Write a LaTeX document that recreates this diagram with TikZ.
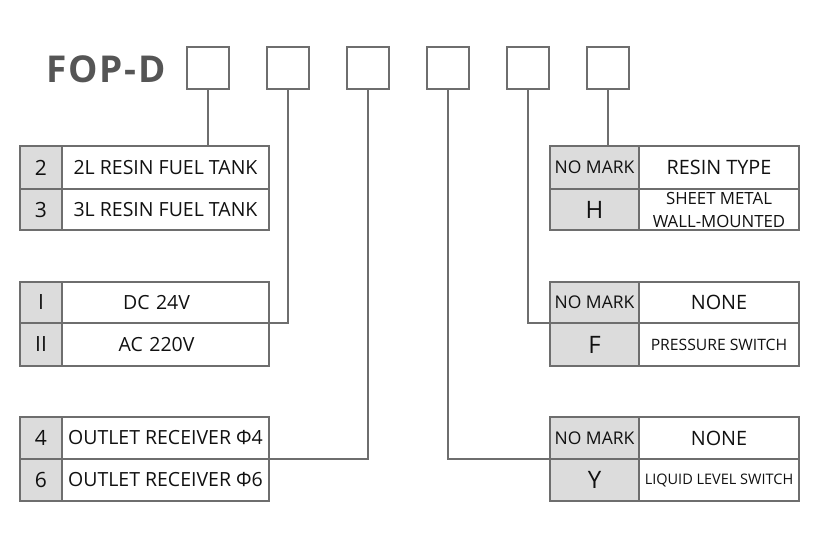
\documentclass[tikz,border=0pt]{standalone}
\usepackage{fontspec}
\setmainfont{Open Sans}
\definecolor{linegray}{HTML}{6E6E6E}
\definecolor{cellgray}{HTML}{DCDCDC}
\definecolor{titlegray}{HTML}{555555}
\definecolor{txt}{HTML}{111111}
\tikzset{
  codebox/.style={draw=linegray, line width=1.5pt, fill=white, minimum width=42pt, minimum height=42pt, inner sep=0pt, outer sep=0pt, anchor=north west},
  cellbase/.style={draw=linegray, line width=1.5pt, inner sep=0pt, outer sep=0pt, anchor=north west, text=txt, align=center},
  keycell/.style={cellbase, fill=cellgray},
  valcell/.style={cellbase, fill=white},
  conn/.style={draw=linegray, line width=1.5pt},
  fbig/.style={font=\fontsize{21}{21}\selectfont},
  fbigr/.style={font=\fontsize{24}{24}\selectfont},
  fmid/.style={font=\fontsize{19.5}{19.5}\selectfont},
  fval/.style={font=\fontsize{19.8}{19.8}\selectfont},
  fnm/.style={font=\fontsize{17.5}{17.5}\selectfont},
  fsm/.style={font=\fontsize{16.8}{23}\selectfont},
  fps/.style={font=\fontsize{15.7}{15.7}\selectfont},
  fxs/.style={font=\fontsize{14.5}{14.5}\selectfont},
}
\begin{document}
\begin{tikzpicture}[x=1pt,y=-1pt]
\useasboundingbox (0,0) rectangle (828,535);
% title
\node[font=\fontsize{37}{37}\selectfont\bfseries\addfontfeatures{LetterSpace=5}, text=titlegray, anchor=base west, inner sep=0pt] (title) at (46,82) {FOP-D};
% code boxes
\node[codebox] (b1) at (187,47) {};
\node[codebox] (b2) at (267,47) {};
\node[codebox] (b3) at (347,47) {};
\node[codebox] (b4) at (427,47) {};
\node[codebox] (b5) at (507,47) {};
\node[codebox] (b6) at (587,47) {};
% left table 1
\node[keycell, fbig, minimum width=42pt, minimum height=43pt] (t1a) at (20,146) {2};
\node[valcell, fmid, minimum width=207pt, minimum height=43pt] (t1b) at (62,146) {2L RESIN FUEL TANK};
\node[keycell, fbig, minimum width=42pt, minimum height=41pt] (t1c) at (20,189) {3};
\node[valcell, fmid, minimum width=207pt, minimum height=41pt] (t1d) at (62,189) {3L RESIN FUEL TANK};
% left table 2
\node[keycell, fbig, minimum width=42pt, minimum height=41pt] (t2a) at (20,282) {I};
\node[valcell, fmid, minimum width=207pt, minimum height=41pt, text width=190pt] (t2b) at (62,282) {\hspace*{-18pt}DC 24V};
\node[keycell, fbig, minimum width=42pt, minimum height=43pt] (t2c) at (20,323) {II};
\node[valcell, fmid, minimum width=207pt, minimum height=43pt, text width=190pt] (t2d) at (62,323) {\hspace*{-18pt}AC 220V};
% left table 3
\node[keycell, fbig, minimum width=42pt, minimum height=42pt] (t3a) at (20,417) {4};
\node[valcell, fmid, minimum width=207pt, minimum height=42pt] (t3b) at (62,417) {OUTLET RECEIVER Φ4};
\node[keycell, fbig, minimum width=42pt, minimum height=42pt] (t3c) at (20,459) {6};
\node[valcell, fmid, minimum width=207pt, minimum height=42pt] (t3d) at (62,459) {OUTLET RECEIVER Φ6};
% right table 4
\node[keycell, fnm, minimum width=89pt, minimum height=43pt] (t4a) at (550,146) {NO MARK};
\node[valcell, fval, minimum width=160pt, minimum height=43pt] (t4b) at (639,146) {RESIN TYPE};
\node[keycell, fbigr, minimum width=89pt, minimum height=41pt] (t4c) at (550,189) {H};
\node[valcell, fsm, minimum width=160pt, minimum height=41pt] (t4d) at (639,189) {SHEET METAL\\WALL-MOUNTED};
% right table 5
\node[keycell, fnm, minimum width=89pt, minimum height=41pt] (t5a) at (550,282) {NO MARK};
\node[valcell, fval, minimum width=160pt, minimum height=41pt] (t5b) at (639,282) {NONE};
\node[keycell, fbigr, minimum width=89pt, minimum height=43pt] (t5c) at (550,323) {F};
\node[valcell, fps, minimum width=160pt, minimum height=43pt] (t5d) at (639,323) {PRESSURE SWITCH};
% right table 6
\node[keycell, fnm, minimum width=89pt, minimum height=42pt] (t6a) at (550,417) {NO MARK};
\node[valcell, fval, minimum width=160pt, minimum height=42pt] (t6b) at (639,417) {NONE};
\node[keycell, fbigr, minimum width=89pt, minimum height=42pt] (t6c) at (550,459) {Y};
\node[valcell, fxs, minimum width=160pt, minimum height=42pt] (t6d) at (639,459) {LIQUID LEVEL SWITCH};
% connectors
\draw[conn] (b1.south) -- (b1.south |- t1b.north);
\draw[conn] (b2.south) |- (t2b.south east);
\draw[conn] (b3.south) |- (t3b.south east);
\draw[conn] (b4.south) |- (t6a.south west);
\draw[conn] (b5.south) |- (t5a.south west);
\draw[conn] (b6.south) -- (b6.south |- t4a.north);
\end{tikzpicture}
\end{document}
